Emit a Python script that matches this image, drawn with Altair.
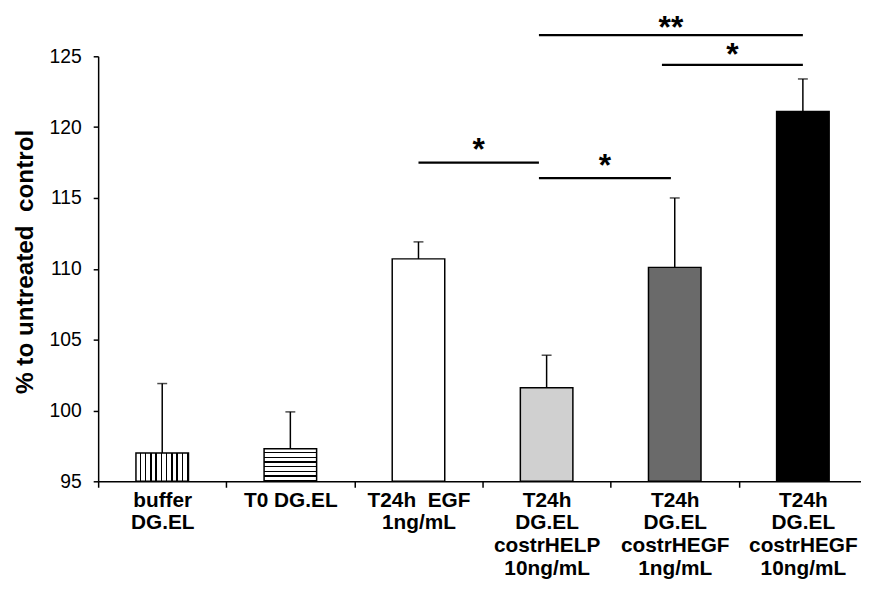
import altair as alt
import pandas as pd

# ---- data ----
categories = [
    "buffer|DG.EL",
    "T0 DG.EL",
    "T24h\u00a0 EGF|1ng/mL",
    "T24h|DG.EL|costrHELP|10ng/mL",
    "T24h|DG.EL|costrHEGF|1ng/mL",
    "T24h|DG.EL|costrHEGF|10ng/mL",
]
means = [97.0, 97.3, 110.7, 101.6, 110.1, 121.1]
errors = [4.9, 2.6, 1.2, 2.3, 4.9, 2.3]

# significance brackets (positions in category-index units)
sig_from = [2.0, 2.94, 2.94, 3.9]
sig_to = [2.94, 3.97, 5.0, 5.0]
sig_y = [117.5, 116.4, 126.5, 124.4]
sig_label_y = [118.6, 117.45, 127.2, 125.3]
sig_labels = ["*", "*", "**", "*"]

y_ticks = [95, 100, 105, 110, 115, 120, 125]

bars_df = pd.DataFrame({"cat": categories, "mean": means, "err": errors})
sig_df = pd.DataFrame({"xs": sig_from, "xe": sig_to, "y": sig_y,
                       "ly": sig_label_y, "label": sig_labels})

FONT = "Liberation Sans, Arial, sans-serif"
RANGE_W = 776
y_title = "% to untreated\u00a0 control"

yscale = alt.Scale(domain=[95, 125], nice=False, zero=False)
yaxis = alt.Axis(values=y_ticks, title=y_title, grid=False, tickSize=5,
                 labelFontSize=19.5, labelPadding=12, titleFontSize=24.5,
                 titleFontWeight="bold", titlePadding=12, titleY=207)

xscale = alt.Scale(domain=categories, range=[0, RANGE_W], paddingInner=0, paddingOuter=0)
xaxis = alt.Axis(title=None,
                 labelExpr="datum.value ? split(datum.value, '|') : ''",
                 labelAngle=0, labelFontSize=21, labelFontWeight="bold",
                 labelLineHeight=23, labelBaseline="top", labelAlign="center",
                 tickBand="extent", tickSize=6, labelPadding=2)

base = alt.Chart(bars_df).encode(
    x=alt.X("cat:N", sort=categories, scale=xscale, axis=xaxis)
).transform_calculate(top="datum.mean + datum.err")

bar_w = alt.RelativeBandSize(band=0.41)
y_bar = alt.Y("mean:Q", scale=yscale, axis=yaxis)
y_floor = alt.datum(95)

solid = base.transform_filter(
    alt.FieldOneOfPredicate(field="cat", oneOf=categories[2:])
).mark_bar(width=bar_w, stroke="black", strokeWidth=1.5).encode(
    y=y_bar, y2=y_floor,
    color=alt.Color("cat:N", scale=alt.Scale(domain=categories[2:],
                    range=["#ffffff", "#d0d0d0", "#6a6a6a", "#000000"]), legend=None),
)

def stripes(n, frac):
    stops = []
    for i in range(n):
        a = i / n
        b = (i + frac) / n
        c = (i + 1) / n
        stops += [alt.GradientStop(offset=a, color="#ffffff"),
                  alt.GradientStop(offset=b, color="#ffffff"),
                  alt.GradientStop(offset=b, color="#000000"),
                  alt.GradientStop(offset=c, color="#000000")]
    return stops

vgrad = alt.LinearGradient(gradient="linear", stops=stripes(10, 0.68), x1=0, x2=1, y1=0, y2=0)
hgrad = alt.LinearGradient(gradient="linear", stops=stripes(7, 0.68), x1=0, x2=0, y1=0, y2=1)

bar_v = base.transform_filter(alt.datum.cat == categories[0]).mark_bar(
    width=bar_w, stroke="black", strokeWidth=1.5, fill=vgrad
).encode(y=y_bar, y2=y_floor)

bar_h = base.transform_filter(alt.datum.cat == categories[1]).mark_bar(
    width=bar_w, stroke="black", strokeWidth=1.5, fill=hgrad
).encode(y=y_bar, y2=y_floor)

err_rule = base.mark_rule(color="black", strokeWidth=1.5).encode(
    y=y_bar, y2="top:Q")
err_cap = base.mark_tick(color="black", size=10, thickness=1.5).encode(
    y=alt.Y("top:Q", scale=yscale, axis=yaxis))

bars_group = alt.layer(solid, bar_v, bar_h, err_rule, err_cap)

sx = alt.Scale(domain=[-0.5, 5.5], range=[0, RANGE_W])
sig_base = alt.Chart(sig_df)
sig_rules = sig_base.mark_rule(color="black", strokeWidth=2.2).encode(
    x=alt.X("xs:Q", scale=sx, axis=None), x2="xe:Q",
    y=alt.Y("y:Q", scale=yscale, axis=yaxis))
sig_text = sig_base.transform_calculate(xm="(datum.xs + datum.xe) / 2").mark_text(
    font=FONT, fontSize=32, fontWeight="bold", baseline="alphabetic", dy=13, color="black"
).encode(
    x=alt.X("xm:Q", scale=sx, axis=None),
    y=alt.Y("ly:Q", scale=yscale, axis=yaxis),
    text="label:N")
sig_group = alt.layer(sig_rules, sig_text)

chart = alt.layer(bars_group, sig_group).resolve_scale(
    x="independent"
).properties(
    width=770, height=429,
    autosize=alt.AutoSizeParams(type="none"),
    padding={"left": 91, "top": 46, "right": 0, "bottom": 110},
).configure_view(stroke=None).configure_axis(
    domainColor="black", domainWidth=1.5, tickColor="black", tickWidth=1.5,
    labelColor="black", titleColor="black", labelFont=FONT, titleFont=FONT,
)

chart.save("out.html", embed_options={"renderer": "svg", "actions": False})
